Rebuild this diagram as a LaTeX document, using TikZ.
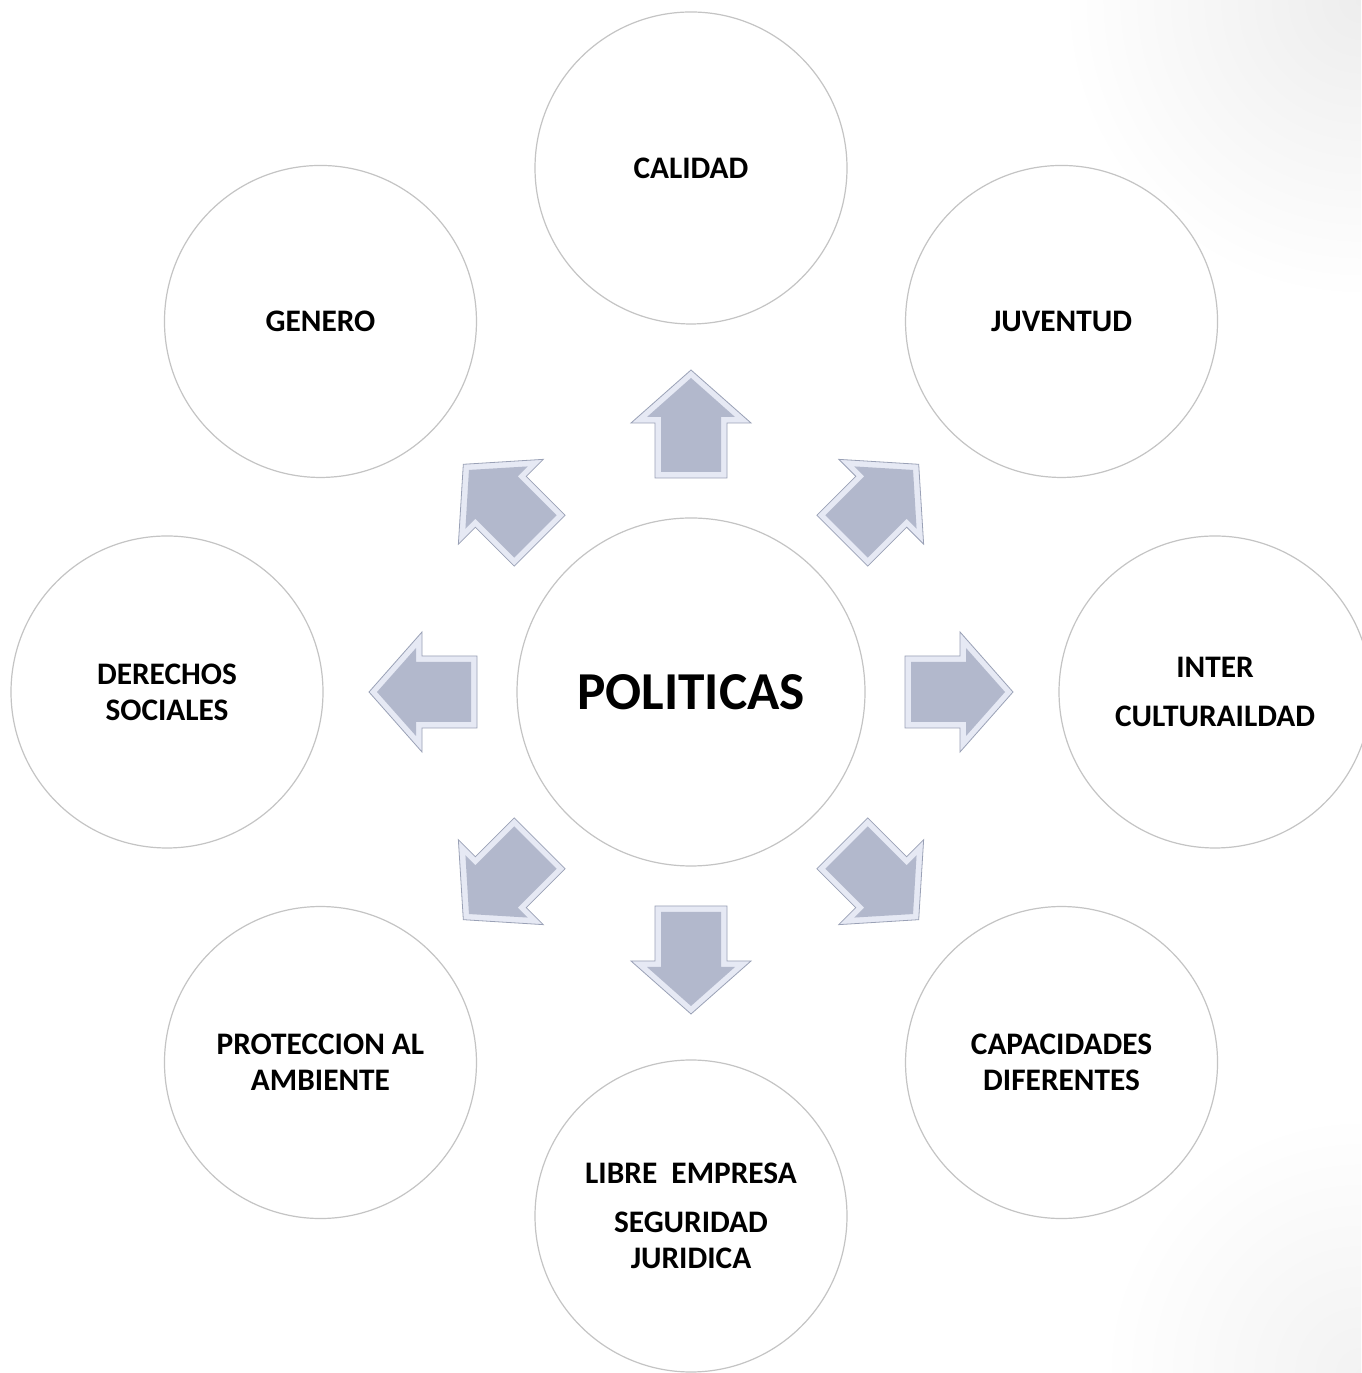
\documentclass[tikz,border=0pt]{standalone}
\usepackage{fontspec}
\setmainfont{Carlito}
\usetikzlibrary{calc}
\definecolor{ringgray}{HTML}{C4C4C4}
\definecolor{arrowfill}{HTML}{B2B8CC}
\definecolor{arrowbevel}{HTML}{E6E9F4}
\definecolor{arrowline}{HTML}{9AA1B6}
\tikzset{
  x=0.75pt, y=0.75pt,
  ring/.style={circle, draw=ringgray, line width=0.9pt, fill=white, minimum size=234pt, inner sep=0pt,
    align=center, font=\fontsize{23.5}{27}\selectfont\bfseries},
  hub/.style={circle, draw=ringgray, line width=0.9pt, fill=white, minimum size=261pt, inner sep=0pt,
    font=\fontsize{40}{46}\selectfont\bfseries},
  pics/blockarrow/.style={code={
    \fill[arrowbevel, draw=arrowline, line width=0.6pt, line join=miter]
      (214,-36) -- (269,-36) -- (269,-60) -- (322,0) -- (269,60) -- (269,36) -- (214,36) -- cycle;
    \fill[arrowfill]
      (220,-30) -- (275,-30) -- (275,-44) -- (314,0) -- (275,44) -- (275,30) -- (220,30) -- cycle;
  }}
}
\begin{document}
\begin{tikzpicture}
\useasboundingbox (0,0) rectangle (1361,1373);
\fill[white] (0,0) rectangle (1361,1373);
\begin{scope}
  \clip (0,0) rectangle (1361,1373);
  \shade[inner color=black!7, outer color=white] (1361,1373) circle[radius=300];
  \shade[inner color=black!5, outer color=white] (1361,0) circle[radius=260];
\end{scope}
\coordinate (c) at (691,681);
\node[hub] (hub) at (c) {POLITICAS};
\node[ring] (calidad) at ($(c)+(90:524)$) {CALIDAD};
\node[ring] (juventud) at ($(c)+(45:524)$) {JUVENTUD};
\node[ring] (inter) at ($(c)+(0:524)$) {INTER\\[10pt]CULTURAILDAD};
\node[ring] (capacidades) at ($(c)+(-45:524)$) {CAPACIDADES\\DIFERENTES};
\node[ring] (libre) at ($(c)+(-90:524)$) {LIBRE\ \ EMPRESA\\[10pt]SEGURIDAD\\JURIDICA};
\node[ring] (proteccion) at ($(c)+(-135:524)$) {PROTECCION AL\\AMBIENTE};
\node[ring] (derechos) at ($(c)+(180:524)$) {DERECHOS\\SOCIALES};
\node[ring] (genero) at ($(c)+(135:524)$) {GENERO};
\foreach \a in {90,45,0,-45,-90,-135,180,135}
  \pic[rotate=\a] at (c) {blockarrow};
\end{tikzpicture}
\end{document}
